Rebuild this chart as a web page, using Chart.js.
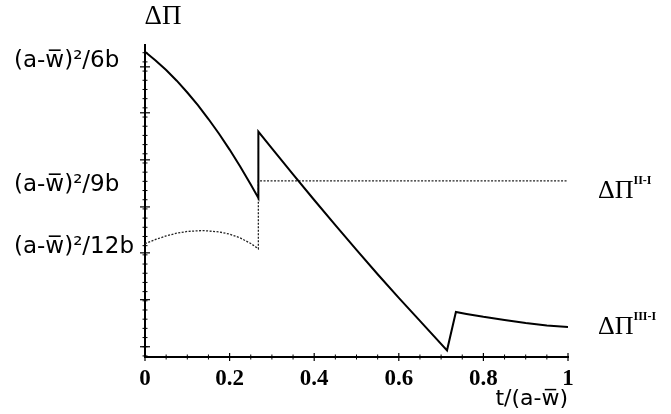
<!DOCTYPE html>
<html>
<head>
<meta charset="utf-8">
<script src="https://cdn.jsdelivr.net/npm/chart.js@4.4.1/dist/chart.umd.min.js"></script>
<style>
  html, body { margin: 0; padding: 0; background: #fff; }
  #wrap { width: 671px; height: 414px; }
</style>
</head>
<body>
<div id="wrap"><canvas id="dpi"></canvas></div>
<script>
// x in units of t/(a-w̄), y in units of (a-w̄)²/b

// ΔΠ^{III-I} (solid)
const solidX = [0, 0.025, 0.05, 0.075, 0.1, 0.125, 0.15, 0.175, 0.2, 0.225, 0.25, 0.268,
    0.268, 0.3, 0.35, 0.4, 0.45, 0.5, 0.55, 0.6, 0.65, 0.714,
    0.735, 0.76, 0.8, 0.85, 0.9, 0.95, 1]
const solidY = [0.1708, 0.1669, 0.1626, 0.1578, 0.1525, 0.1468, 0.1406, 0.1340, 0.1269, 0.1193, 0.1112, 0.1052,
    0.1350, 0.1275, 0.1158, 0.1043, 0.0930, 0.0819, 0.0710, 0.0604, 0.0501, 0.0369,
    0.0541, 0.0532, 0.0519, 0.0505, 0.0491, 0.0480, 0.0474]

// ΔΠ^{II-I} (dotted)
const dottedX = [0, 0.025, 0.05, 0.075, 0.1, 0.137, 0.175, 0.2, 0.225, 0.25, 0.268, 0.268, 1]
const dottedY = [0.0847, 0.0866, 0.0882, 0.0894, 0.0902, 0.0906, 0.0900, 0.0890, 0.0873, 0.0848, 0.0824, 0.1129, 0.1129]

const xTicks = [0, 0.2, 0.4, 0.6, 0.8, 1]
const xTickLabels = ["0", "0.2", "0.4", "0.6", "0.8", "1"]
const yLabelValues = [1 / 6, 1 / 9, 1 / 12]
const yLabels = ["(a-w\u0305)\u00b2/6b", "(a-w\u0305)\u00b2/9b", "(a-w\u0305)\u00b2/12b"]
const yMajor = [0.1640, 0.1434, 0.1223, 0.1012, 0.0806, 0.0596, 0.0385]
const seriesNames = ["III-I", "II-I"]

const toPoints = (xs, ys) => xs.map((v, i) => ({ x: v, y: ys[i] }))

// tick marks crossing the axes, axis title and end labels
const decorations = {
    id: "decorations",
    afterDraw(chart) {
        const { ctx, chartArea, scales: { x, y } } = chart
        const seg = (x1, y1, x2, y2) => {
            ctx.beginPath()
            ctx.moveTo(x1, y1)
            ctx.lineTo(x2, y2)
            ctx.stroke()
        }
        ctx.save()
        ctx.strokeStyle = "#000"

        // x ticks
        ctx.lineWidth = 1.2
        xTicks.forEach(v => {
            const px = x.getPixelForValue(v)
            seg(px, chartArea.bottom - 4, px, chartArea.bottom + 4)
        })
        ctx.lineWidth = 1
        for (let i = 0; i < xTicks.length - 1; i++) {
            const step = (xTicks[i + 1] - xTicks[i]) / 4
            for (let k = 1; k < 4; k++) {
                const px = x.getPixelForValue(xTicks[i] + k * step)
                seg(px, chartArea.bottom - 2.5, px, chartArea.bottom + 2.5)
            }
        }

        // y ticks
        ctx.lineWidth = 1.2
        yMajor.forEach(v => {
            const py = y.getPixelForValue(v)
            seg(chartArea.left - 5, py, chartArea.left + 5, py)
        })
        ctx.lineWidth = 1
        const yStep = yMajor[0] - yMajor[1]
        const minorStart = yMajor[yMajor.length - 1] - yStep
        for (let v = minorStart; v < y.max; v += yStep / 5) {
            if (v < y.min) continue
            const py = y.getPixelForValue(v)
            seg(chartArea.left - 2.5, py, chartArea.left + 2.5, py)
        }

        // y axis title
        ctx.fillStyle = "#000"
        ctx.font = "27px 'Liberation Serif'"
        ctx.textAlign = "center"
        ctx.textBaseline = "middle"
        ctx.fillText("\u0394\u03a0", chartArea.left + 18, chartArea.top - 28)

        // labels at the right end of each curve
        const offsets = [0, 10]
        chart.data.datasets.forEach((ds, i) => {
            const pts = chart.getDatasetMeta(i).data
            const last = pts[pts.length - 1]
            const lx = last.x + 30
            const ly = last.y + offsets[i]
            ctx.textAlign = "left"
            ctx.font = "26px 'Liberation Serif'"
            ctx.fillText("\u0394\u03a0", lx, ly)
            const w = ctx.measureText("\u0394\u03a0").width
            ctx.font = "bold 12px 'Liberation Serif'"
            ctx.fillText(seriesNames[i], lx + w, ly - 10)
        })
        ctx.restore()
    }
}

new Chart(document.getElementById("dpi"), {
    type: "scatter",
    data: {
        datasets: [
            {
                label: "\u0394\u03a0 III-I",
                data: toPoints(solidX, solidY),
                showLine: true,
                borderColor: "#000",
                borderWidth: 2,
                pointRadius: 0,
                tension: 0
            },
            {
                label: "\u0394\u03a0 II-I",
                data: toPoints(dottedX, dottedY),
                showLine: true,
                borderColor: "#222",
                borderWidth: 1.3,
                borderDash: [2, 1.5],
                pointRadius: 0,
                tension: 0
            }
        ]
    },
    options: {
        responsive: true,
        maintainAspectRatio: false,
        animation: false,
        layout: { padding: { top: 45, right: 103, left: 14, bottom: 0 } },
        plugins: {
            legend: { display: false },
            tooltip: { enabled: false }
        },
        scales: {
            x: {
                type: "linear",
                min: 0,
                max: 1,
                afterBuildTicks: scale => {
                    scale.ticks = xTicks.map(v => ({ value: v }))
                },
                afterFit: scale => {
                    scale.height = 57
                },
                ticks: {
                    callback: (v, i) => xTickLabels[i],
                    color: "#000",
                    font: { family: "'Liberation Serif'", size: 23, weight: "bold" },
                    padding: 0,
                    maxRotation: 0
                },
                grid: { display: false },
                border: { display: true, color: "#000", width: 2 },
                title: {
                    display: true,
                    text: "t/(a-w\u0305)",
                    align: "end",
                    color: "#000",
                    font: { family: "'DejaVu Sans'", size: 22 },
                    padding: { top: 0, bottom: 2 }
                }
            },
            y: {
                type: "linear",
                min: 0.0339,
                max: 0.1738,
                afterBuildTicks: scale => {
                    scale.ticks = yLabelValues.map(v => ({ value: v }))
                },
                afterFit: scale => {
                    scale.width = 131
                },
                ticks: {
                    callback: (v, i) => yLabels[i],
                    color: "#000",
                    font: { family: "'DejaVu Sans'", size: 23 },
                    crossAlign: "far",
                    padding: 10
                },
                grid: { display: false },
                border: { display: true, color: "#000", width: 2 }
            }
        }
    },
    plugins: [decorations]
})
</script>
</body>
</html>
